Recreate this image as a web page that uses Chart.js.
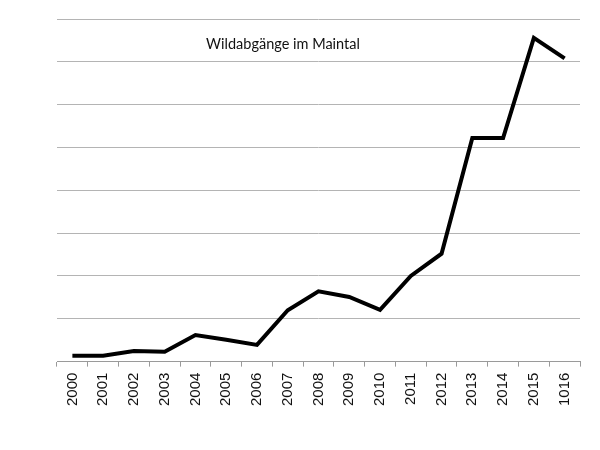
<!DOCTYPE html>
<html><head><meta charset="utf-8">
<script src="https://cdn.jsdelivr.net/npm/chart.js@4/dist/chart.umd.min.js"></script>
<style>html,body{margin:0;padding:0;background:#fff}#wrap{width:600px;height:450px}</style>
</head><body><div id="wrap"><canvas id="c" width="600" height="450"></canvas></div>
<script>
const years = ["2000","2001","2002","2003","2004","2005","2006","2007","2008","2009","2010","2011","2012","2013","2014","2015","1016"];
const wildabgaenge = [7, 7, 12.5, 11.5, 31, 25.5, 19.5, 60, 82, 75.5, 60.5, 100, 126, 261, 261, 378, 354];
const chartTitle = "Wildabgänge im Maintal";

const titleInside = {
  id: 'titleInside',
  afterDraw(chart) {
    const ctx = chart.ctx;
    ctx.save();
    ctx.font = '14.5px Lato, "Open Sans", sans-serif';
    ctx.fillStyle = '#111';
    ctx.textAlign = 'center';
    ctx.textBaseline = 'middle';
    ctx.fillText(chartTitle, 283, 44);
    ctx.restore();
  }
};

new Chart(document.getElementById('c'), {
  type: 'line',
  data: {
    labels: years,
    datasets: [{
      data: wildabgaenge,
      borderColor: '#000',
      borderWidth: 4,
      pointRadius: 0,
      tension: 0,
      fill: false,
      borderJoinStyle: 'miter'
    }]
  },
  options: {
    responsive: false,
    animation: false,
    layout: { padding: { left: 57, right: 20, top: 19, bottom: 38 } },
    plugins: { legend: { display: false }, tooltip: { enabled: false } },
    scales: {
      x: {
        offset: true,
        grid: { offset: true, drawOnChartArea: false, drawTicks: true, tickLength: 5, color: '#9a9a9a' },
        border: { display: true, color: '#9a9a9a', width: 1 },
        ticks: { maxRotation: 90, minRotation: 90, autoSkip: false, color: '#111', font: { family: '"Liberation Sans", Arial, sans-serif', size: 15 }, padding: 6 }
      },
      y: {
        min: 0, max: 400,
        ticks: { display: false, stepSize: 50 },
        grid: { color: '#b4b4b4', lineWidth: 1, drawTicks: false },
        border: { display: false }
      }
    }
  },
  plugins: [titleInside]
});
</script></body></html>
